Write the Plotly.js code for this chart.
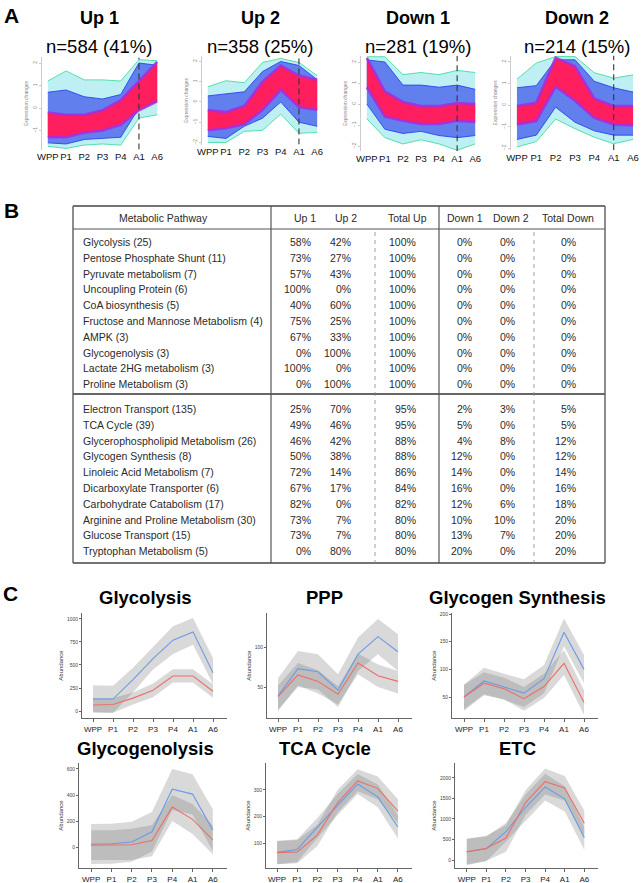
<!DOCTYPE html>
<html><head><meta charset="utf-8">
<script src="https://cdn.plot.ly/plotly-3.0.1.min.js"></script>
<style>html,body{margin:0;padding:0;background:#fff}#chart{width:641px;height:883px}</style>
</head><body><div id="chart"></div><script>
const W=641,H=883;
const FONT='Liberation Sans, Arial, sans-serif';
const stages=['WPP','P1','P2','P3','P4','A1','A6'];

// ---------- Panel A: clusters ----------
const clusterNames=['Up 1','Up 2','Down 1','Down 2'];
const clusterN=[584,358,281,214];
const clusterPct=[41,25,19,15];
const up1OuterHi=[1.2,1.65,1.25,1.25,1.2,2.15,2.1];
const up1OuterLo=[-1.7,-1.8,-1.65,-1.6,-1.65,-0.45,-0.3];
const up1BlueHi=[0.7,0.8,0.5,0.4,0.6,2.0,1.9];
const up1BlueLo=[-1.55,-1.6,-1.4,-1.35,-1.3,0.0,0.3];
const up1CoreHi=[-0.2,-0.3,-0.3,-0.1,0.35,1.2,2.05];
const up1CoreLo=[-1.3,-1.3,-1.1,-1.0,-0.75,-0.1,0.3];
const up2OuterHi=[0.75,1.05,0.95,1.95,2.15,1.95,1.3];
const up2OuterLo=[-2.0,-2.0,-1.45,-1.4,-0.6,-1.55,-1.5];
const up2BlueHi=[0.3,0.4,0.5,1.5,2.0,1.8,1.1];
const up2BlueLo=[-1.7,-1.8,-1.2,-0.8,0.0,-1.0,-1.2];
const up2CoreHi=[-0.4,-0.5,-0.2,1.0,1.8,1.3,1.1];
const up2CoreLo=[-1.4,-1.3,-1.1,-0.4,0.6,-0.25,-0.4];
const down1OuterHi=[2.25,2.25,1.4,1.5,1.4,1.6,1.5];
const down1OuterLo=[-0.7,-1.6,-1.9,-1.7,-1.9,-2.2,-1.9];
const down1BlueHi=[2.1,2.0,0.9,0.9,0.8,0.9,0.7];
const down1BlueLo=[0.0,-1.2,-1.4,-1.3,-1.5,-1.6,-1.5];
const down1CoreHi=[2.2,0.6,0.1,-0.1,-0.1,0.05,0.0];
const down1CoreLo=[0.8,-0.6,-0.8,-0.95,-0.95,-0.8,-0.85];
const down2OuterHi=[1.2,1.95,2.25,2.25,1.5,1.25,1.4];
const down2OuterLo=[-1.95,-1.7,-0.65,-1.1,-1.5,-1.8,-1.6];
const down2BlueHi=[0.8,0.9,2.1,2.1,1.1,0.8,0.6];
const down2BlueLo=[-1.6,-1.4,-0.1,-0.8,-1.2,-1.4,-1.4];
const down2CoreHi=[-0.05,0.1,2.2,1.8,0.3,-0.05,-0.05];
const down2CoreLo=[-0.9,-0.75,0.85,0.2,-0.6,-0.9,-0.95];

// ---------- Panel B: table ----------
const tableHeaders=['Metabolic Pathway','Up 1','Up 2','Total Up','Down 1','Down 2','Total Down'];
const pathwayRows=['Glycolysis (25)','Pentose Phosphate Shunt (11)','Pyruvate metabolism (7)','Uncoupling Protein (6)','CoA biosynthesis (5)','Fructose and Mannose Metabolism (4)','AMPK (3)','Glycogenolysis (3)','Lactate 2HG metabolism (3)','Proline Metabolism (3)',
 'Electron Transport (135)','TCA Cycle (39)','Glycerophospholipid Metabolism (26)','Glycogen Synthesis (8)','Linoleic Acid Metabolism (7)','Dicarboxylate Transporter (6)','Carbohydrate Catabolism (17)','Arginine and Proline Metabolism (30)','Glucose Transport (15)','Tryptophan Metabolism (5)'];
const up1Pct=[58,73,57,100,40,75,67,0,100,0,25,49,46,50,72,67,82,73,73,0];
const up2Pct=[42,27,43,0,60,25,33,100,0,100,70,46,42,38,14,17,0,7,7,80];
const totalUpPct=[100,100,100,100,100,100,100,100,100,100,95,95,88,88,86,84,82,80,80,80];
const down1Pct=[0,0,0,0,0,0,0,0,0,0,2,5,4,12,14,16,12,10,13,20];
const down2Pct=[0,0,0,0,0,0,0,0,0,0,3,0,8,0,0,0,6,10,7,0];
const totalDownPct=[0,0,0,0,0,0,0,0,0,0,5,5,12,12,14,16,18,20,20,20];

// ---------- Panel C: abundance profiles ----------
const pathwayTitles=['Glycolysis','PPP','Glycogen Synthesis','Glycogenolysis','TCA Cycle','ETC'];
const glyBlue=[130,130,340,570,770,860,415], glyBlueHi=[280,275,470,690,920,1010,575], glyBlueLo=[-20,-20,200,450,620,720,290];
const glyRed=[65,70,140,225,380,380,215], glyRedHi=[140,140,200,300,455,455,290], glyRedLo=[-10,-20,70,150,310,310,145];
const pppBlue=[39,73,69,46,91,113,94], pppBlueHi=[61,95,91,66,112,135,116], pppBlueLo=[22,50,47,25,70,91,70];
const pppRed=[38,65,57,41,80,64,57], pppRedHi=[52,80,71,51,92,78,70], pppRedLo=[20,52,42,28,66,50,42];
const gsBlue=[50,79,68,57,83,167,100], gsBlueHi=[72,103,92,82,108,192,126], gsBlueLo=[28,55,45,32,57,142,75];
const gsRed=[50,75,65,47,69,111,40], gsRedHi=[72,95,85,68,92,135,62], gsRedLo=[25,53,46,25,48,90,18];
const ggBlue=[24,25,39,117,445,407,130], ggBlueHi=[178,180,195,270,600,560,290], ggBlueLo=[-130,-128,-113,-35,285,250,-30];
const ggRed=[15,15,18,50,307,213,55], ggRedHi=[130,130,140,170,400,330,165], ggRedLo=[-100,-100,-100,-70,200,100,-55];
const tcaBlue=[66,77,161,240,322,274,161], tcaBlueHi=[110,115,195,285,360,320,205], tcaBlueLo=[22,30,120,205,285,235,118];
const tcaRed=[65,68,131,252,334,306,221], tcaRedHi=[108,112,170,300,378,350,265], tcaRedLo=[22,25,90,215,295,265,175];
const etcBlue=[200,275,690,1280,1780,1490,540], etcBlueHi=[520,570,900,1600,2100,1800,800], etcBlueLo=[-120,-30,450,950,1450,1180,250];
const etcRed=[198,285,535,1400,1910,1755,895], etcRedHi=[520,590,850,1700,2230,2050,1200], etcRedLo=[-110,-20,200,1100,1600,1450,560];

// ---------- helpers ----------
const X=p=>p/W, Y=p=>1-p/H;
const traces=[], annotations=[], shapes=[];
const layout={width:W,height:H,margin:{l:0,r:0,t:0,b:0},paper_bgcolor:'#fff',plot_bgcolor:'rgba(0,0,0,0)',showlegend:false,font:{family:FONT,color:'#222'}};
let nAx=0;
function addAxes(xpx,ypx,xr,yr,xo,yo){
  nAx++;
  const s=nAx===1?'':String(nAx);
  layout['xaxis'+s]=Object.assign({domain:[X(xpx[0]),X(xpx[1])],range:xr,anchor:'y'+s,type:'category',tickangle:0,showgrid:false,zeroline:false,fixedrange:true},xo);
  layout['yaxis'+s]=Object.assign({domain:[Y(ypx[1]),Y(ypx[0])],range:yr,anchor:'x'+s,showgrid:false,zeroline:false,fixedrange:true},yo);
  return {x:'x'+s,y:'y'+s};
}
function band(ax,lo,hi,fill,edge,ew){
  traces.push({x:stages,y:lo,xaxis:ax.x,yaxis:ax.y,mode:'lines',line:{width:ew||0,color:edge||fill},hoverinfo:'skip'});
  traces.push({x:stages,y:hi,xaxis:ax.x,yaxis:ax.y,mode:'lines',fill:'tonexty',fillcolor:fill,line:{width:ew||0,color:edge||fill},hoverinfo:'skip'});
}
function line(ax,y,color,w,dash){
  traces.push({x:stages,y:y,xaxis:ax.x,yaxis:ax.y,mode:'lines',line:{width:w,color:color,dash:dash||'solid'},hoverinfo:'skip'});
}
function label(text,x,y,size,opts){
  annotations.push(Object.assign({text:text,x:X(x),y:Y(y),xref:'paper',yref:'paper',showarrow:false,xanchor:'center',yanchor:'middle',font:{family:FONT,size:size,color:'#000'}},opts||{}));
}

// ---------- Panel A ----------
label('<b>A</b>',11,16,21);
const clusterData=[
  [up1OuterLo,up1OuterHi,up1BlueLo,up1BlueHi,up1CoreLo,up1CoreHi],
  [up2OuterLo,up2OuterHi,up2BlueLo,up2BlueHi,up2CoreLo,up2CoreHi],
  [down1OuterLo,down1OuterHi,down1BlueLo,down1BlueHi,down1CoreLo,down1CoreHi],
  [down2OuterLo,down2OuterHi,down2BlueLo,down2BlueHi,down2CoreLo,down2CoreHi]];
const aGeom=[
  {x:[46,159],y:[57.4,149.6],yr:[-1.85,2.25],ax:41,cx:99,tv:[-1,0,1,2]},
  {x:[206,319],y:[56.4,144.5],yr:[-2.1,2.25],ax:201,cx:260,tv:[-2,-1,0,1,2]},
  {x:[365,477],y:[55.7,151.3],yr:[-2.25,2.3],ax:360,cx:418,tv:[-2,-1,0,1,2]},
  {x:[515,635],y:[55.5,150.2],yr:[-2.1,2.3],ax:510,cx:577,tv:[-2,-1,0,1,2]}];
clusterData.forEach((d,i)=>{
  const g=aGeom[i];
  const ax=addAxes(g.x,g.y,[-0.1,6.1],g.yr,
    {showline:false,ticks:'',tickfont:{size:9.5,color:'#111',family:FONT}},
    {anchor:'free',position:X(g.ax),showline:true,linecolor:'#aaa',linewidth:0.6,ticks:'outside',ticklen:2,tickcolor:'#aaa',tickwidth:0.6,
     tickvals:g.tv,tickangle:-90,tickfont:{size:5,color:'#888',family:FONT},
     title:{text:'Expression changes',font:{size:5,color:'#888',family:FONT},standoff:2}});
  band(ax,d[0],d[1],'rgba(90,215,225,0.4)','#44dca0',0.9);
  band(ax,d[2],d[3],'rgba(60,80,235,0.7)','rgba(40,70,240,0.9)',1);
  band(ax,d[4],d[5],'#ff1f5f','rgba(165,45,225,0.85)',2.6);
  traces.push({x:['A1','A1'],y:g.yr,xaxis:ax.x,yaxis:ax.y,mode:'lines',line:{color:'#333',width:1.1,dash:'6px,4px'},hoverinfo:'skip'});
  label('<b>'+clusterNames[i]+'</b>',g.cx,18,18);
  label('n='+clusterN[i]+' ('+clusterPct[i]+'%)',g.cx,47,18.5);
});

// ---------- Panel B ----------
label('<b>B</b>',11,211,21);
const tL=73,tR=605,tT=206,tHB=229,tSep=394,tB=563;
const hline=(y,w,c)=>shapes.push({type:'line',xref:'paper',yref:'paper',x0:X(tL),x1:X(tR),y0:Y(y),y1:Y(y),line:{color:c,width:w}});
const vline=(x,y0,y1,w,c,dash)=>shapes.push({type:'line',xref:'paper',yref:'paper',x0:X(x),x1:X(x),y0:Y(y0),y1:Y(y1),line:{color:c,width:w,dash:dash||'solid'}});
hline(tT,1.5,'#444'); hline(tHB,1,'#555'); hline(tSep,1.5,'#333'); hline(tB,1.5,'#444');
vline(tL,tT,tB,1.5,'#666'); vline(tR,tT,tB,1.5,'#666');
vline(271,tT,tB,1.2,'#555'); vline(439,tT,tB,1.2,'#555');
vline(375,tHB+3,tB,0.8,'#888','4px,4px'); vline(534,tHB+3,tB,0.8,'#888','4px,4px');
const hdrX=[163,305,346,407,465,511,568];
tableHeaders.forEach((h,i)=>label(h,hdrX[i],218,10.5,{font:{family:FONT,size:10.5,color:'#2a2a2a'}}));
const colRight=[313,353,418,474,517,578];
const colData=[up1Pct,up2Pct,totalUpPct,down1Pct,down2Pct,totalDownPct];
pathwayRows.forEach((p,r)=>{
  const y=r<10?242+r*15.8:409+(r-10)*15.8;
  label(p,81,y,10.5,{xanchor:'left',font:{family:FONT,size:10.5,color:'#2a2a2a'}});
  colData.forEach((c,j)=>label(c[r]+'%',colRight[j],y,10.5,{xanchor:'right',font:{family:FONT,size:10.5,color:'#2a2a2a'}}));
});

// ---------- Panel C ----------
label('<b>C</b>',10,593,21);
const cData=[
  [glyBlue,glyBlueHi,glyBlueLo,glyRed,glyRedHi,glyRedLo],
  [pppBlue,pppBlueHi,pppBlueLo,pppRed,pppRedHi,pppRedLo],
  [gsBlue,gsBlueHi,gsBlueLo,gsRed,gsRedHi,gsRedLo],
  [ggBlue,ggBlueHi,ggBlueLo,ggRed,ggRedHi,ggRedLo],
  [tcaBlue,tcaBlueHi,tcaBlueLo,tcaRed,tcaRedHi,tcaRedLo],
  [etcBlue,etcBlueHi,etcBlueLo,etcRed,etcRedHi,etcRedLo]];
const cGeom=[
  {x:[82,227],y:[613,718],xr:[-0.55,6.7],yr:[-76,1065],tv:[0,250,500,750,1000],cx:145,ty:597},
  {x:[267,412],y:[613,718],xr:[-0.55,6.7],yr:[11.25,142.5],tv:[50,100],cx:325,ty:597},
  {x:[452,598],y:[613,718],xr:[-0.6,6.7],yr:[12,202],tv:[50,100,150,200],cx:517,ty:597},
  {x:[79,227],y:[763,868],xr:[-0.6,6.7],yr:[-161,646],tv:[0,200,400,600],cx:145,ty:748},
  {x:[266,412],y:[763,868],xr:[-0.55,6.7],yr:[7.5,401],tv:[100,200,300],cx:325,ty:748},
  {x:[455,598],y:[763,868],xr:[-0.6,6.7],yr:[-195,2365],tv:[0,500,1000,1500,2000],cx:517,ty:748}];
cData.forEach((d,i)=>{
  const g=cGeom[i];
  const ax=addAxes(g.x,g.y,g.xr,g.yr,
    {showline:true,linecolor:'#666',linewidth:1,ticks:'outside',ticklen:3,tickcolor:'#666',tickfont:{size:8,color:'#222',family:FONT}},
    {showline:true,linecolor:'#666',linewidth:1,ticks:'outside',ticklen:2,tickcolor:'#666',tickvals:g.tv,tickfont:{size:5,color:'#444',family:FONT},
     title:{text:'Abundance',font:{size:6,color:'#333',family:FONT},standoff:2}});
  band(ax,d[2],d[1],'rgba(120,120,120,0.28)');
  band(ax,d[5],d[4],'rgba(120,120,120,0.28)');
  line(ax,d[0],'#6a9be9',1.1);
  line(ax,d[3],'#ee6e66',1.1);
  label('<b>'+pathwayTitles[i]+'</b>',g.cx,g.ty,18.5);
});

layout.annotations=annotations;
layout.shapes=shapes;
traces.forEach(t=>t.showlegend=false);
Plotly.newPlot('chart',traces,layout,{staticPlot:true,displayModeBar:false});
</script></body></html>
